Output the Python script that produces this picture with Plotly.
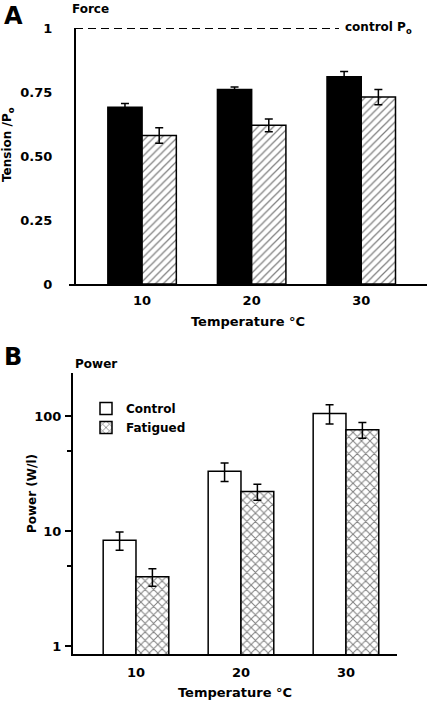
import plotly.graph_objects as go

temps = ["10", "20", "30"]

force_control = [0.69, 0.76, 0.81]
force_control_err = [0.015, 0.01, 0.02]
force_fatigued = [0.58, 0.62, 0.73]
force_fatigued_err = [0.03, 0.025, 0.03]

power_control = [8.3, 33, 105]
power_control_err = [1.5, 6, 20]
power_fatigued = [4.0, 22, 76]
power_fatigued_err = [0.7, 3.5, 12]

force_ticks = [0, 0.25, 0.5, 0.75, 1]
force_ticktext = ["0", "0.25", "0.50", "0.75", "1"]
power_ticks = [1, 10, 100]
power_minor = [5, 50]

W, H = 428, 702
FONT = "DejaVu Sans, Liberation Sans, Arial, sans-serif"

def px(x):
    return x / W

def py(y):
    return 1 - y / H

fig = go.Figure()

err_style = dict(type="data", color="black", thickness=1.5, width=4)

fig.add_trace(go.Bar(
    x=temps, y=force_control, name="Control", showlegend=False,
    marker=dict(color="black", line=dict(color="black", width=1.5)),
    error_y=dict(array=force_control_err, **err_style),
    xaxis="x", yaxis="y"))
fig.add_trace(go.Bar(
    x=temps, y=force_fatigued, name="Fatigued", showlegend=False,
    marker=dict(color="white", line=dict(color="black", width=1.5),
                pattern=dict(shape="/", fgcolor="black", bgcolor="white",
                             size=5.5, solidity=0.22)),
    error_y=dict(array=force_fatigued_err, **err_style),
    xaxis="x", yaxis="y"))

fig.add_trace(go.Bar(
    x=temps, y=power_control, name="Control",
    marker=dict(color="white", line=dict(color="black", width=1.5)),
    error_y=dict(array=power_control_err, **err_style),
    xaxis="x2", yaxis="y2"))
fig.add_trace(go.Bar(
    x=temps, y=power_fatigued, name="Fatigued",
    marker=dict(color="white", line=dict(color="black", width=1.5),
                pattern=dict(shape="x", fgcolor="black", bgcolor="white",
                             size=6, solidity=0.3)),
    error_y=dict(array=power_fatigued_err, **err_style),
    xaxis="x2", yaxis="y2"))

tickfont = dict(family=FONT, size=13, color="black", weight="bold")
titlefont = dict(family=FONT, size=13, color="black", weight="bold")

fig.update_layout(
    width=W, height=H,
    margin=dict(l=0, r=0, t=0, b=0, autoexpand=False),
    paper_bgcolor="white", plot_bgcolor="white",
    barmode="group", bargap=0.375, bargroupgap=0,
    font=dict(family=FONT, color="black"),
    xaxis=dict(domain=[px(69), px(427)], anchor="y", type="category",
               range=[-0.667, 2.6], showline=True, linecolor="black",
               linewidth=2, ticks="", tickfont=tickfont, showgrid=False,
               ticklabelstandoff=3, automargin=False,
               title=dict(text="Temperature °C", font=titlefont, standoff=10)),
    yaxis=dict(domain=[py(284), py(28)], anchor="free", position=px(75),
               range=[0, 1], tickvals=force_ticks, ticktext=force_ticktext,
               showline=True, linecolor="black", linewidth=2, ticks="",
               tickfont=tickfont, showgrid=False, zeroline=False,
               ticklabelstandoff=19, automargin=False),
    xaxis2=dict(domain=[px(73), px(397)], anchor="y2", type="category",
                range=[-0.6, 2.486], showline=True, linecolor="black",
                linewidth=2, ticks="", tickfont=tickfont, showgrid=False,
                ticklabelstandoff=5, automargin=False,
                title=dict(text="Temperature °C", font=titlefont, standoff=9)),
    yaxis2=dict(domain=[py(654), py(373)], anchor="x2", type="log",
                range=[-0.07, 2.374], tickvals=power_ticks,
                ticktext=["1", "10", "100"],
                showline=True, linecolor="black", linewidth=2,
                ticks="outside", ticklen=6, tickwidth=1.5, tickcolor="black",
                minor=dict(tickmode="array", tickvals=power_minor, ticks="outside",
                           ticklen=4, tickwidth=1.5, tickcolor="black",
                           showgrid=False),
                tickfont=tickfont, showgrid=False, zeroline=False,
                ticklabelstandoff=1, automargin=False),
    legend=dict(x=px(86), y=py(394), xanchor="left", yanchor="top",
                bgcolor="rgba(0,0,0,0)", font=dict(family=FONT, size=12,
                                                   color="black", weight="bold"),
                itemwidth=30, tracegroupgap=0, traceorder="normal"),
)

fig.add_shape(type="line", xref="paper", yref="y", x0=px(75), x1=px(339),
              y0=1, y1=1, line=dict(color="black", width=2, dash="8px,5px"))

def label(text, x, y, size, xanchor="left", yanchor="top", angle=0, yref="paper"):
    fig.add_annotation(text=text, xref="paper", yref=yref, x=x, y=y,
                       xanchor=xanchor, yanchor=yanchor, textangle=angle,
                       font=dict(family=FONT, size=size, color="black", weight="bold"),
                       showarrow=False)

label("A", px(2), py(0), 24)
label("Force", px(70), py(0), 12)
label("control P<sub>o</sub>", px(343), 1, 12, yanchor="middle", yref="y")
label("Tension /P<sub>o</sub>", px(8), py(145), 12, xanchor="center",
      yanchor="middle", angle=-90)
label("B", px(2), py(341), 24)
label("Power", px(73), py(355), 12)
label("Power (W/l)", px(32), py(493), 12, xanchor="center", yanchor="middle",
      angle=-90)

fig.write_html("out.html", config={"displayModeBar": False},
               post_script="document.body.style.margin='0';")
